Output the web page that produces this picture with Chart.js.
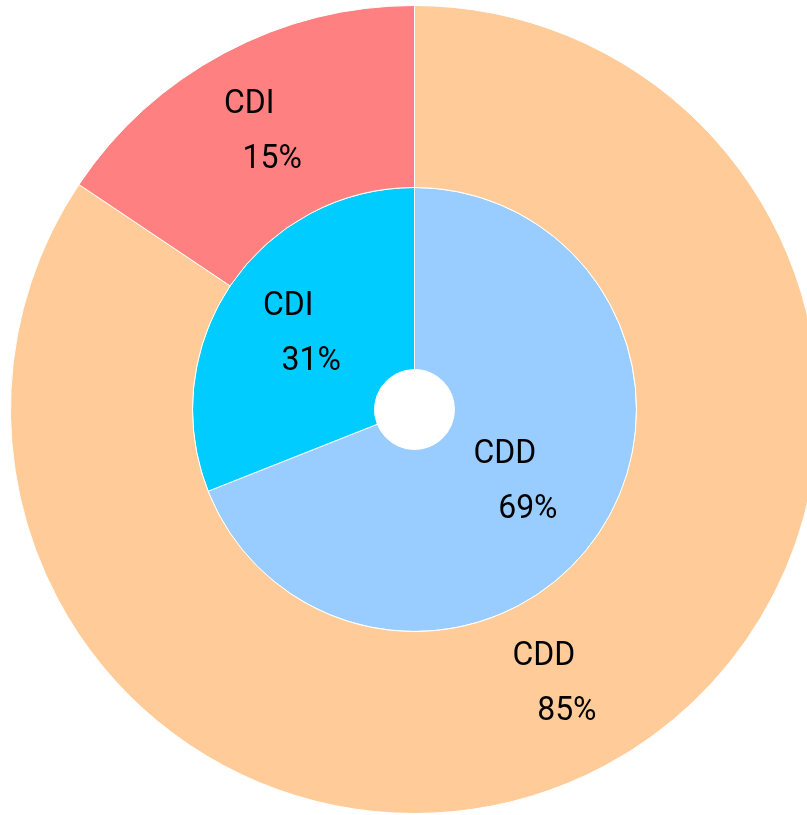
<!DOCTYPE html>
<html lang="en">
<head>
    <meta charset="UTF-8">
    <title>CDD / CDI</title>
    <script src="https://cdn.jsdelivr.net/npm/chart.js"></script>
    <style>
        html, body { margin: 0; padding: 0; background: #fff; overflow: hidden; }
        #wrap { position: absolute; left: 0; top: 0; width: 829px; height: 819px; }
    </style>
</head>
<body>
    <div id="wrap"><canvas id="ringChart"></canvas></div>

    <script>
        const categories = ['CDD', 'CDI'];
        // slice sizes as measured from the arcs; printed labels as shown
        const outerValues = [84.4, 15.6];
        const innerValues = [69, 31];
        const outerLabels = ['85%', '15%'];
        const innerLabels = ['69%', '31%'];

        const outerColors = ['#FFCC99', '#FF8080'];
        const innerColors = ['#99CCFF', '#00CCFF'];
        const pctLabels = [outerLabels, innerLabels];

        function drawText(ctx, text, x, y) {
            ctx.save();
            ctx.translate(x, y);
            ctx.scale(0.94, 1);
            ctx.fillText(text, 0, 0);
            ctx.restore();
        }

        // two-line label (name over percent) drawn at each arc's centre
        const ringLabels = {
            id: 'ringLabels',
            afterDatasetsDraw(chart) {
                const ctx = chart.ctx;
                ctx.save();
                ctx.font = '34px Roboto';
                ctx.fillStyle = '#000';
                ctx.textAlign = 'center';
                ctx.textBaseline = 'middle';
                chart.data.datasets.forEach((ds, i) => {
                    chart.getDatasetMeta(i).data.forEach((arc, j) => {
                        const p = arc.tooltipPosition();
                        const x = p.x - 6.5, y = p.y - 1.5;
                        drawText(ctx, categories[j], x - 11.5, y - 27.5);
                        drawText(ctx, pctLabels[i][j], x + 11.5, y + 27.5);
                    });
                });
                ctx.restore();
            }
        };

        new Chart(document.getElementById('ringChart'), {
            type: 'doughnut',
            data: {
                labels: categories,
                datasets: [
                    { data: outerValues, backgroundColor: outerColors, borderColor: '#fff', borderWidth: 1 },
                    { data: innerValues, backgroundColor: innerColors, borderColor: '#fff', borderWidth: 1 }
                ]
            },
            options: {
                responsive: true,
                maintainAspectRatio: false,
                animation: false,
                cutout: '9.9%',
                layout: { padding: 5 },
                plugins: {
                    legend: { display: false },
                    tooltip: { enabled: false }
                }
            },
            plugins: [ringLabels]
        });
    </script>
</body>
</html>
